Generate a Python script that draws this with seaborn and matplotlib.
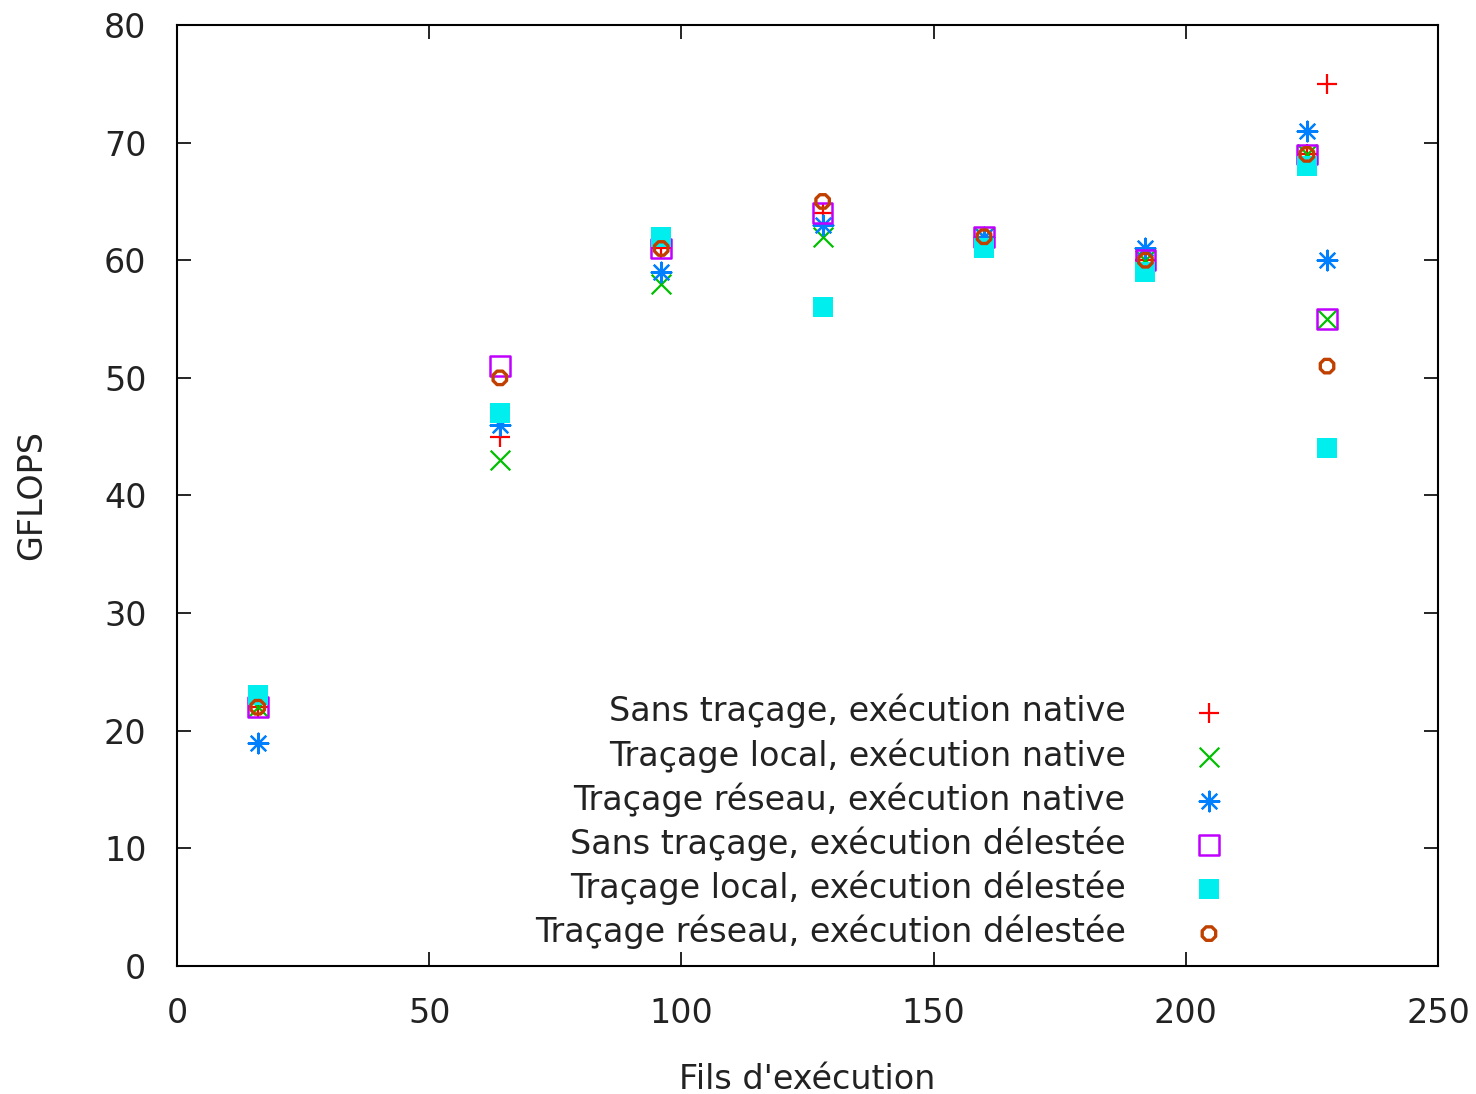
import numpy as np
import pandas as pd
import matplotlib
matplotlib.use("Agg")
import matplotlib.pyplot as plt
import seaborn as sns

# ---- data ----
labels = [
    "Sans traçage, exécution native",
    "Traçage local, exécution native",
    "Traçage réseau, exécution native",
    "Sans traçage, exécution délestée",
    "Traçage local, exécution délestée",
    "Traçage réseau, exécution délestée",
]
threads = [16, 64, 96, 128, 160, 192, 224, 228]
sans_native = [22, 45, 61, 64, 62, 60, 69, 75]
local_native = [22, 43, 58, 62, 62, 60, 69, 55]
reseau_native = [19, 46, 59, 63, 62, 61, 71, 60]
sans_delestee = [22, 51, 61, 64, 62, 60, 69, 55]
local_delestee = [23, 47, 62, 56, 61, 59, 68, 44]
reseau_delestee = [22, 50, 61, 65, 62, 60, 69, 51]

series = [sans_native, local_native, reseau_native,
          sans_delestee, local_delestee, reseau_delestee]
colors = ["#ff0000", "#00c000", "#0080ff", "#c000ff", "#00eeee", "#c04000"]

sns.set_style("ticks")
plt.rcParams["font.family"] = ["DejaVu Sans"]
plt.rcParams["font.size"] = 24

fig = plt.figure(figsize=(14.76, 10.94), dpi=100)
ax = fig.add_axes([177/1476, 1 - 966/1094, (1438-177)/1476, (966-25)/1094])

for i, (lab, vals, col) in enumerate(zip(labels, series, colors)):
    df = pd.DataFrame({"x": threads, "y": vals})
    if i == 0:
        kw = dict(marker="+", s=220, color=col, linewidth=1.6)
    elif i == 1:
        kw = dict(marker="x", s=200, color=col, linewidth=1.6)
    elif i == 2:
        kw = dict(marker=(8, 2, 0), s=200, color=col, linewidth=1.6)
    elif i == 3:
        kw = dict(marker="s", s=200, facecolor="none", edgecolor=col, linewidth=1.8)
    elif i == 4:
        kw = dict(marker="s", s=220, color=col, edgecolor=col, linewidth=0)
    else:
        kw = dict(marker="8", s=110, facecolor="none", edgecolor=col, linewidth=2.4)
    sns.scatterplot(data=df, x="x", y="y", ax=ax, label=lab, zorder=3 + i, **kw)

ax.set_xlim(0, 250)
ax.set_ylim(0, 80)
ax.set_xticks(np.arange(0, 251, 50))
ax.set_yticks(np.arange(0, 81, 10))
ax.tick_params(direction="in", length=10, width=1.2, top=True, right=True,
               labelsize=24, colors="black", pad=22)
ax.tick_params(axis="both", labelcolor="#222222")
for sp in ax.spines.values():
    sp.set_linewidth(1.5)
    sp.set_color("black")
    sp.set_visible(True)

ax.set_xlabel("Fils d'exécution", fontsize=24, color="#222222", labelpad=24)
ax.set_ylabel("GFLOPS", fontsize=24, color="#222222", labelpad=40)

leg = ax.legend(loc="lower right", bbox_to_anchor=(0.858, 0.0), frameon=False,
                markerfirst=False, fontsize=24, handletextpad=1.5,
                labelspacing=0.29, borderpad=0, scatterpoints=1)
for t in leg.get_texts():
    t.set_ha("right")
    t.set_color("#222222")
leg._legend_box.align = "right"

fig.savefig("out.png", dpi=100)
